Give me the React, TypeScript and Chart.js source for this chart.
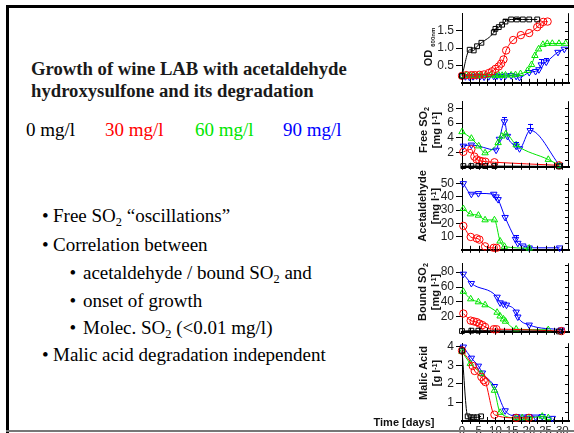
import React, { useEffect, useRef } from "react";
import { Chart, registerables } from "chart.js";

Chart.register(...registerables);

// ---------- data ----------
// OD600
const odDays0 = [0, 2.3, 3.5, 4.5, 5.8, 9.5, 10, 11, 12, 13, 14.7, 16.4, 18.2, 20.1, 22.5];
const od0 = [0.2, 0.95, 0.93, 1.05, 1.15, 1.45, 1.55, 1.6, 1.67, 1.76, 1.82, 1.82, 1.82, 1.82, 1.82];
const odErr0 = [0, 0, 0, 0, 0, 0.1, 0, 0, 0, 0.06, 0, 0.05, 0, 0, 0];
const odDays30 = [0, 1.3, 2.8, 3.8, 5.2, 6.6, 8, 9, 10, 11, 11.7, 12.4, 13.2, 15.3, 17.6, 20.1, 22.5, 23.3, 24.3, 25.6];
const od30 = [0.2, 0.22, 0.22, 0.22, 0.23, 0.24, 0.28, 0.33, 0.4, 0.47, 0.55, 0.67, 0.93, 1.23, 1.37, 1.43, 1.6, 1.68, 1.75, 1.76];
const odDays60 = [0, 1.3, 2.5, 3.5, 4.5, 5.5, 7, 8.5, 10, 11, 12, 13, 14.7, 16, 17.5, 19.6, 20.8, 21.8, 22.9, 24.2, 25.5, 27, 29, 31];
const od60 = [0.2, 0.22, 0.2, 0.21, 0.2, 0.22, 0.21, 0.22, 0.21, 0.22, 0.21, 0.22, 0.22, 0.23, 0.26, 0.35, 0.52, 0.78, 0.97, 1.1, 1.13, 1.13, 1.13, 1.13];
const odDays90 = [0, 1, 2.2, 3.3, 4.4, 5.5, 6.6, 8, 9.5, 10.5, 11.7, 13, 14.7, 16.2, 17.2, 20.1, 22, 23, 23.7, 25.2, 28.7, 30.6];
const od90 = [0.2, 0.18, 0.17, 0.18, 0.2, 0.19, 0.17, 0.18, 0.19, 0.2, 0.18, 0.2, 0.21, 0.19, 0.16, 0.3, 0.33, 0.38, 0.52, 0.6, 0.88, 0.97];
const odErr90 = [0, 0, 0, 0, 0, 0, 0, 0, 0, 0, 0, 0, 0, 0, 0, 0, 0, 0, 0.15, 0.1, 0, 0];
const odTicks = [0.5, 1.0, 1.5];

// Free SO2
const freeDays0 = [0.4, 2.8, 4.9, 6.9, 9.7, 29];
const free0 = [0.1, 0.1, 0.1, 0.1, 0.1, 0.05];
const freeDays30 = [0.4, 2.8, 3.7, 4.4, 5.2, 6.1, 7, 9.7, 29];
const free30 = [2.05, 2.4, 1.4, 1.0, 0.85, 0.75, 0.7, 0.62, 0.2];
const freeDays60 = [0, 2.8, 5, 6.9, 10.8, 11.9, 13.1, 16.2, 25.8, 29.2];
const free60 = [4.8, 3.9, 2.85, 1.9, 3.3, 4.2, 4.5, 3.0, 1.0, 0.2];
const freeDays90 = [0.4, 2.8, 10.2, 11.2, 12.7, 13.6, 16.2, 17.2, 20.4, 29.2];
const free90 = [2.85, 3.0, 2.3, 3.8, 6.2, 4.2, 2.85, 2.5, 5.0, 0.2];
const freeErr90 = [0, 0, 0, 0, 0.6, 0, 0.5, 0, 0.9, 0];
const freeTicks = [2, 4, 6, 8];

// Acetaldehyde
const acetDays30 = [0.4, 2.6, 4.4, 5.2, 6.9, 9.5, 10.3];
const acet30 = [18, 9.7, 8.6, 7.7, 2.6, 1.5, 1.5];
const acetDays60 = [0.4, 2.5, 4.9, 6.9, 9.7, 11.4, 12.7, 20.1];
const acet60 = [31, 27, 26, 22.5, 22.5, 6.5, 2.5, 1.2];
const acetDays90 = [0.4, 2.8, 4.9, 9.5, 10.2, 10.8, 12.9, 16, 16.7, 18.2, 20.1, 29.2];
const acet90 = [50, 42, 42.5, 42, 40, 38, 24.5, 8, 5, 3, 1.5, 1.5];
const acetErr90 = [0, 0, 0, 0, 0, 0, 0, 3, 0, 0, 0, 0];
const acetTicks = [10, 20, 30, 40, 50];

// Bound SO2
const boundDays0 = [0, 2.8, 4.9, 29];
const bound0 = [1, 1.5, 1.5, 0.5];
const boundDays30 = [0.4, 2.6, 3.5, 4.4, 5.2, 6.1, 6.9, 9.5, 10.3, 29.7];
const bound30 = [24.5, 15, 14, 13, 11, 9, 6.5, 3.5, 3.5, 1];
const boundDays60 = [0.4, 2.6, 4.9, 6.9, 10.5, 11.4, 12.4, 13, 16.2, 25.8];
const bound60 = [54, 44, 40, 36, 26, 21, 17, 14, 3.5, 2.7];
const boundDays90 = [0.4, 2.8, 10.5, 11.4, 12.4, 13.3, 16.2, 16.7, 20.1, 29.7];
const bound90 = [77.5, 65, 46.6, 39, 37.3, 36, 26.6, 20, 9.2, 2.7];
const boundTicks = [20, 40, 60, 80];

// Malic acid
const malicDays0 = [0, 1.7, 2.6, 3.5, 4.5, 5.7];
const malic0 = [3.8, 0.25, 0.2, 0.2, 0.2, 0.25];
const malicDays30 = [0, 3.2, 3.8, 5.8, 6.5, 7, 9.7, 16.2, 20];
const malic30 = [3.8, 2.97, 2.7, 2.38, 2.2, 2.1, 0.34, 0.17, 0.17];
const malicDays60 = [0, 2.5, 5.8, 9.7, 11.4, 16.2, 18, 20, 24, 25.8];
const malic60 = [3.74, 3.1, 2.55, 1.65, 0.46, 0.17, 0.17, 0.17, 0.25, 0.17];
const malicDays90 = [0.4, 2.8, 4.9, 6.1, 9.7, 12.9, 16.2, 18, 20, 22, 24, 27];
const malic90 = [4.0, 3.4, 2.97, 2.6, 1.87, 0.56, 0.25, 0.22, 0.25, 0.22, 0.25, 0.15];
const malicTicks = [1, 2, 3, 4];

const xTickLabels = [0, 5, 10, 15, 20, 25, 30];

// ---------- styles ----------
const BLACK = "#000000";
const RED = "#ff0000";
const GREEN = "#00e600";
const BLUE = "#0000ff";
const SANS = '"Liberation Sans", Arial, sans-serif';
const SERIF = '"Liberation Serif", "Times New Roman", serif';

type Series = { d: number[]; v: number[]; e?: number[]; c: string; s: string; rot?: number };
type PanelDef = {
  id: string; top: number; bottom: number; min: number; max: number;
  ticks: number[]; dec: number; rStep: number; labels: boolean; series: Series[];
};

const sq = (d: number[], v: number[], e?: number[]) => ({ d, v, e });

const panels: PanelDef[] = [
  {
    id: "od", top: 8, bottom: 88, min: 0, max: 2, ticks: odTicks, dec: 1, rStep: 0.25, labels: false,
    series: [
      { ...sq(odDays0, od0, odErr0), c: BLACK, s: "rect" },
      { ...sq(odDays30, od30), c: RED, s: "circle" },
      { ...sq(odDays60, od60), c: GREEN, s: "triangle" },
      { ...sq(odDays90, od90, odErr90), c: BLUE, s: "triangle", rot: 180 },
    ],
  },
  {
    id: "free", top: 96, bottom: 172, min: 0, max: 9, ticks: freeTicks, dec: 0, rStep: 1, labels: false,
    series: [
      { ...sq(freeDays0, free0), c: BLACK, s: "rect" },
      { ...sq(freeDays30, free30), c: RED, s: "circle" },
      { ...sq(freeDays60, free60), c: GREEN, s: "triangle" },
      { ...sq(freeDays90, free90, freeErr90), c: BLUE, s: "triangle", rot: 180 },
    ],
  },
  {
    id: "acet", top: 173, bottom: 255, min: 0, max: 54, ticks: acetTicks, dec: 0, rStep: 5, labels: false,
    series: [
      { ...sq(acetDays30, acet30), c: RED, s: "circle" },
      { ...sq(acetDays60, acet60), c: GREEN, s: "triangle" },
      { ...sq(acetDays90, acet90, acetErr90), c: BLUE, s: "triangle", rot: 180 },
    ],
  },
  {
    id: "bound", top: 258, bottom: 337, min: 0, max: 92, ticks: boundTicks, dec: 0, rStep: 10, labels: false,
    series: [
      { ...sq(boundDays0, bound0), c: BLACK, s: "rect" },
      { ...sq(boundDays30, bound30), c: RED, s: "circle" },
      { ...sq(boundDays60, bound60), c: GREEN, s: "triangle" },
      { ...sq(boundDays90, bound90), c: BLUE, s: "triangle", rot: 180 },
    ],
  },
  {
    id: "malic", top: 338, bottom: 421, min: 0, max: 4.2, ticks: malicTicks, dec: 0, rStep: 0.5, labels: true,
    series: [
      { ...sq(malicDays0, malic0), c: BLACK, s: "rect" },
      { ...sq(malicDays30, malic30), c: RED, s: "circle" },
      { ...sq(malicDays60, malic60), c: GREEN, s: "triangle" },
      { ...sq(malicDays90, malic90), c: BLUE, s: "triangle", rot: 180 },
    ],
  },
];

const CANVAS_LEFT = 400;
const Y_AXIS_W = 62;
const PAD_TOP = 4;

const frameTicks = {
  id: "frameTicks",
  afterDraw(chart: any, _args: any, opts: any) {
    const { ctx, chartArea: a, scales } = chart;
    const x = scales.x, y = scales.y;
    ctx.save();
    ctx.strokeStyle = "#000";
    ctx.lineWidth = 1;
    ctx.beginPath();
    ctx.moveTo(a.right - 0.5, a.top);
    ctx.lineTo(a.right - 0.5, a.bottom);
    for (let d = 0; d <= x.max + 0.01; d += 2.5) {
      const px = Math.round(x.getPixelForValue(d)) + 0.5;
      ctx.moveTo(px, a.bottom - 4);
      ctx.lineTo(px, a.bottom + 3);
    }
    const step = opts.rStep || 1;
    for (let v = y.min + step; v < y.max; v += step) {
      const py = Math.round(y.getPixelForValue(v)) + 0.5;
      ctx.moveTo(a.right - 4, py);
      ctx.lineTo(a.right, py);
    }
    ctx.stroke();
    ctx.restore();
  },
};

const errorBars = {
  id: "errorBars",
  afterDatasetsDraw(chart: any) {
    const { ctx, scales } = chart;
    const x = scales.x, y = scales.y;
    ctx.save();
    ctx.lineWidth = 1;
    chart.data.datasets.forEach((ds: any) => {
      if (!ds.errors) return;
      ctx.strokeStyle = ds.borderColor;
      ds.errors.forEach((e: number, i: number) => {
        if (!e) return;
        const p = ds.data[i];
        const px = Math.round(x.getPixelForValue(p.x)) + 0.5;
        const y1 = y.getPixelForValue(p.y + e);
        const y0 = y.getPixelForValue(p.y);
        ctx.beginPath();
        ctx.moveTo(px, y0);
        ctx.lineTo(px, y1);
        ctx.moveTo(px - 2.5, Math.round(y1) + 0.5);
        ctx.lineTo(px + 2.5, Math.round(y1) + 0.5);
        ctx.stroke();
      });
    });
    ctx.restore();
  },
};

function Panel({ p }: { p: PanelDef }) {
  const ref = useRef<HTMLCanvasElement>(null);
  const xh = p.labels ? 16 : 4;
  const h = PAD_TOP + (p.bottom - p.top) + xh;
  useEffect(() => {
    if (!ref.current) return;
    const datasets = p.series.map((s) => ({
      data: s.d.map((d, i) => ({ x: d, y: s.v[i] })),
      errors: s.e,
      borderColor: s.c,
      backgroundColor: "rgba(255,255,255,0)",
      borderWidth: 1,
      pointStyle: s.s,
      rotation: s.rot || 0,
      pointRadius: s.s === "rect" ? 3.4 : 3.7,
      pointBorderWidth: 1,
      pointBorderColor: s.c,
      pointBackgroundColor: "rgba(255,255,255,0)",
      cubicInterpolationMode: "monotone",
      clip: false,
      fill: false,
    }));
    const chart = new Chart(ref.current, {
      type: "line",
      data: { datasets } as any,
      options: {
        animation: false,
        responsive: false,
        devicePixelRatio: 1,
        events: [],
        layout: { padding: { top: PAD_TOP, left: 0, right: 2, bottom: 0 } },
        plugins: {
          legend: { display: false },
          tooltip: { enabled: false },
          frameTicks: { rStep: p.rStep },
        } as any,
        scales: {
          x: {
            type: "linear",
            min: 0,
            max: 32,
            afterFit: (s: any) => { s.height = xh; },
            afterBuildTicks: (s: any) => { s.ticks = xTickLabels.map((v) => ({ value: v })); },
            ticks: {
              display: p.labels,
              font: { family: SANS, size: 11.5 },
              color: "#222",
              padding: 3,
              maxRotation: 0,
              autoSkip: false,
            },
            grid: { drawOnChartArea: false, drawTicks: false },
            border: { display: true, color: "#000", width: 2 },
          },
          y: {
            min: p.min,
            max: p.max,
            afterFit: (s: any) => { s.width = Y_AXIS_W; },
            afterBuildTicks: (s: any) => { s.ticks = p.ticks.map((v) => ({ value: v })); },
            ticks: {
              font: { family: SANS, size: 12 },
              color: "#222",
              padding: 2,
              callback: (v: any) => Number(v).toFixed(p.dec),
            },
            grid: { drawOnChartArea: false, drawTicks: true, tickLength: 6, tickColor: "#000" },
            border: { display: true, color: "#000", width: 1 },
          },
        },
      } as any,
      plugins: [frameTicks, errorBars],
    });
    return () => chart.destroy();
  }, []);
  return (
    <canvas
      ref={ref}
      width={574 - CANVAS_LEFT}
      height={h}
      style={{ position: "absolute", left: CANVAS_LEFT, top: p.top - PAD_TOP, width: 574 - CANVAS_LEFT, height: h }}
    />
  );
}

const rotTitle = (cx: number, cy: number, content: React.ReactNode, key: string) => (
  <div
    key={key}
    style={{
      position: "absolute", left: cx, top: cy,
      transform: "translate(-50%, -50%) rotate(-90deg)",
      whiteSpace: "nowrap", textAlign: "center",
      font: `bold 11px ${SANS}`, lineHeight: "13px", color: "#111",
    }}
  >
    {content}
  </div>
);

const sub = (t: string) => (
  <sub style={{ fontSize: "0.65em", verticalAlign: "-0.3em", lineHeight: 0 }}>{t}</sub>
);
const sup = (t: string) => (
  <sup style={{ fontSize: "0.65em", verticalAlign: "0.45em", lineHeight: 0 }}>{t}</sup>
);

const bulletLines = [
  { level: 1, base: 222, content: <>Free SO{sub("2")} “oscillations”</> },
  { level: 1, base: 251, content: <>Correlation between</> },
  { level: 2, base: 279, content: <>acetaldehyde / bound SO{sub("2")} and</> },
  { level: 2, base: 307, content: <>onset of growth</> },
  { level: 2, base: 334, content: <>Molec. SO{sub("2")} (&lt;0.01 mg/l)</> },
  { level: 1, base: 361, content: <>Malic acid degradation independent</> },
];

const concLabels = [
  { t: "0 mg/l", x: 26, c: "#000" },
  { t: "30 mg/l", x: 105, c: "#ff0000" },
  { t: "60 mg/l", x: 195, c: "#00e600" },
  { t: "90 mg/l", x: 283, c: "#0000ff" },
];

const BSIZE = 19;

export default function App() {
  return (
    <div style={{ position: "fixed", left: 0, top: 0, width: 574, height: 433, background: "#fff", overflow: "hidden" }}>
      {/* title */}
      <div style={{ position: "absolute", left: 31, top: 57.7, font: `bold 18.7px ${SERIF}`, lineHeight: "22px", color: "#1a1a1a", whiteSpace: "nowrap" }}>
        Growth of wine LAB with acetaldehyde<br />hydroxysulfone and its degradation
      </div>
      {concLabels.map((l) => (
        <div key={l.t} style={{ position: "absolute", left: l.x, top: 136 - 15.9, font: `19px ${SERIF}`, lineHeight: "19px", color: l.c, whiteSpace: "nowrap" }}>
          {l.t}
        </div>
      ))}
      {bulletLines.map((b, i) => (
        <React.Fragment key={i}>
          <div style={{ position: "absolute", left: b.level === 1 ? 42 : 69.5, top: b.base - 0.8375 * BSIZE, font: `${BSIZE}px ${SERIF}`, lineHeight: `${BSIZE}px`, color: "#000" }}>•</div>
          <div style={{ position: "absolute", left: b.level === 1 ? 53 : 83, top: b.base - 0.8375 * BSIZE, font: `${BSIZE}px ${SERIF}`, lineHeight: `${BSIZE}px`, color: "#000", whiteSpace: "nowrap" }}>
            {b.content}
          </div>
        </React.Fragment>
      ))}

      {panels.map((p) => <Panel key={p.id} p={p} />)}

      {rotTitle(431, 47, <>OD <span style={{ fontSize: "6px", verticalAlign: "-0.5em" }}>600nm</span></>, "t1")}
      {rotTitle(429.5, 130, <>Free SO{sub("2")}<br />[mg l{sup("-1")}]</>, "t2")}
      {rotTitle(429, 206, <>Acetaldehyde<br />[mg l{sup("-1")}]</>, "t3")}
      {rotTitle(429, 292, <>Bound SO{sub("2")}<br />[mg l{sup("-1")}]</>, "t4")}
      {rotTitle(429.5, 373, <>Malic Acid<br />[g l{sup("-1")}]</>, "t5")}
      <div style={{ position: "absolute", left: 404, top: 422, transform: "translate(-50%, -50%)", font: `bold 11px ${SANS}`, whiteSpace: "nowrap", color: "#111" }}>
        Time [days]
      </div>

      {/* slide frame */}
      <div style={{ position: "absolute", left: 6, top: 5, width: 568, height: 3, background: "#000" }} />
      <div style={{ position: "absolute", left: 6, top: 5, width: 3, height: 428, background: "#000" }} />
      <div style={{ position: "absolute", left: 6, top: 430, width: 568, height: 2, background: "#777" }} />
    </div>
  );
}
